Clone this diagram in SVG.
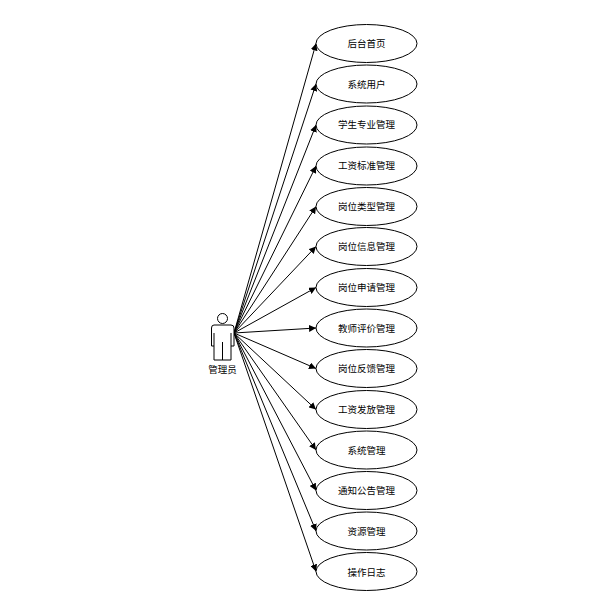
<svg xmlns="http://www.w3.org/2000/svg" width="605" height="602" viewBox="0 0 605 602">
<style>
.n{fill:#fff;stroke:#000;stroke-width:1}
.t{font-family:"Noto Sans CJK SC","Liberation Sans",sans-serif;font-size:9.5px;fill:#000;text-anchor:middle}
.c{fill:none;stroke:#000;stroke-width:1;marker-end:url(#a)}
.u{fill:#fff;stroke:#000;stroke-width:1}
</style>
<defs><marker id="a" markerUnits="userSpaceOnUse" markerWidth="8" markerHeight="7" refX="7" refY="3.500" orient="auto"><path d="M0 0L7 3.500L0 7Z" fill="#000"/></marker></defs>
<rect width="605" height="602" fill="#fff"/>
<g id="connectors">
<path class="c" d="M234 333L316 43.500"/>
<path class="c" d="M234 333L316 84"/>
<path class="c" d="M234 333L316 125"/>
<path class="c" d="M234 333L316 166"/>
<path class="c" d="M234 333L316 206.500"/>
<path class="c" d="M234 333L316 246.500"/>
<path class="c" d="M234 333L316 287.500"/>
<path class="c" d="M234 333L316 328"/>
<path class="c" d="M234 333L316 368.500"/>
<path class="c" d="M234 333L316 409.500"/>
<path class="c" d="M234 333L316 450"/>
<path class="c" d="M234 333L316 490.500"/>
<path class="c" d="M234 333L316 531"/>
<path class="c" d="M234 333L316 571.500"/>
</g>
<g id="actor">
<circle class="u" cx="222.500" cy="318.500" r="5"/>
<path class="u" d="M214 325H231Q234 325 234 328V346H231V360H214V346H211.500V328Q211.500 325 214 325Z"/>
<path class="u" d="M214 333V346M231 333V346M222.500 342V360"/>
<text class="t" x="222.500" y="372.500">管理员</text>
</g>
<g id="n1"><ellipse class="n" cx="366.500" cy="43.500" rx="50.500" ry="19"/><text class="t" x="366.500" y="47">后台首页</text></g>
<g id="n2"><ellipse class="n" cx="366.500" cy="84" rx="50.500" ry="19"/><text class="t" x="366.500" y="88">系统用户</text></g>
<g id="n3"><ellipse class="n" cx="366.500" cy="125" rx="50.500" ry="19"/><text class="t" x="366.500" y="128">学生专业管理</text></g>
<g id="n4"><ellipse class="n" cx="366.500" cy="166" rx="50.500" ry="19"/><text class="t" x="366.500" y="169">工资标准管理</text></g>
<g id="n5"><ellipse class="n" cx="366.500" cy="206.500" rx="50.500" ry="19"/><text class="t" x="366.500" y="209.500">岗位类型管理</text></g>
<g id="n6"><ellipse class="n" cx="366.500" cy="246.500" rx="50.500" ry="19"/><text class="t" x="366.500" y="250">岗位信息管理</text></g>
<g id="n7"><ellipse class="n" cx="366.500" cy="287.500" rx="50.500" ry="19"/><text class="t" x="366.500" y="290.500">岗位申请管理</text></g>
<g id="n8"><ellipse class="n" cx="366.500" cy="328" rx="50.500" ry="19"/><text class="t" x="366.500" y="331.500">教师评价管理</text></g>
<g id="n9"><ellipse class="n" cx="366.500" cy="368.500" rx="50.500" ry="19"/><text class="t" x="366.500" y="372">岗位反馈管理</text></g>
<g id="n10"><ellipse class="n" cx="366.500" cy="409.500" rx="50.500" ry="19"/><text class="t" x="366.500" y="412.500">工资发放管理</text></g>
<g id="n11"><ellipse class="n" cx="366.500" cy="450" rx="50.500" ry="19"/><text class="t" x="366.500" y="453.500">系统管理</text></g>
<g id="n12"><ellipse class="n" cx="366.500" cy="490.500" rx="50.500" ry="19"/><text class="t" x="366.500" y="494">通知公告管理</text></g>
<g id="n13"><ellipse class="n" cx="366.500" cy="531" rx="50.500" ry="19"/><text class="t" x="366.500" y="534.500">资源管理</text></g>
<g id="n14"><ellipse class="n" cx="366.500" cy="571.500" rx="50.500" ry="19"/><text class="t" x="366.500" y="575.500">操作日志</text></g>
</svg>
